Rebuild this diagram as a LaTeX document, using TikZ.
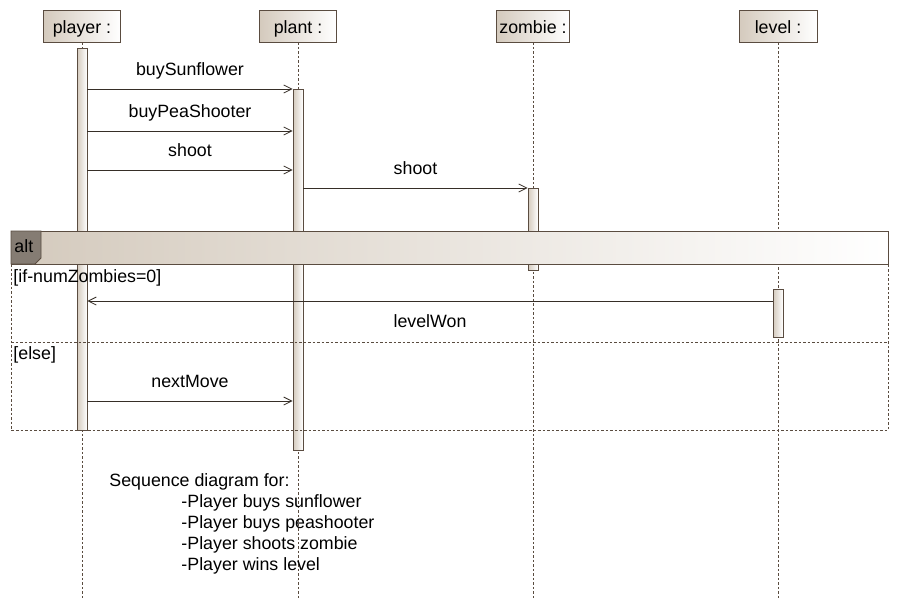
\documentclass[tikz,border=0pt]{standalone}
\usepackage{fontspec}
\setmainfont{Liberation Sans}
\usetikzlibrary{arrows.meta}
\definecolor{umlbrown}{HTML}{5A4C40}
\definecolor{umltan}{HTML}{D4CABD}
\definecolor{umltab}{HTML}{857C73}
\colorlet{msgline}{umlbrown!60!black}

\begin{document}
\begin{tikzpicture}[
        x=1pt, y=-1pt,
        line width=0.9pt,
        font=\fontsize{17.8}{21}\selectfont,
        head/.style={draw=umlbrown, left color=umltan, right color=white, minimum height=32pt, inner sep=0pt, text height=15pt, text depth=1pt},
        life/.style={umlbrown, dash pattern=on 2.5pt off 2pt},
        bar/.style={draw=umlbrown, left color=umltan, right color=white, minimum width=10pt, inner sep=0pt, anchor=north},
        msg/.style={-{Straight Barb[length=8pt,width=8pt,line width=0.8pt]}, msgline},
        lbl/.style={midway, anchor=base, yshift=14pt, text=black}
    ]
        \useasboundingbox (0,0) rectangle (899,611);

        % lifelines
        \foreach \n/\x/\w in {player/82/77, plant/298/77, zombie/533/73, level/778/78} {
            \node[head, minimum width=\w pt] (\n) at (\x,26) {\n\ :};
            \coordinate (\n end) at (\x,600);
            \draw[life] (\n) -- (\n end);
        }

        % activations
        \node[bar, minimum height=382pt] (playerAct) at (82,48) {};
        \node[bar, minimum height=361pt] (plantAct) at (298,89) {};
        \node[bar, minimum height=82pt] (zombieAct) at (533,188) {};
        \node[bar, minimum height=48pt] (levelAct) at (778,289) {};

        % messages
        \draw[msg] (playerAct.east |- plantAct.north) -- (plantAct.north west) node[lbl]{buySunflower};
        \draw[msg] (playerAct.east |- 0,131) -- (plantAct.west |- 0,131) node[lbl]{buyPeaShooter};
        \draw[msg] (playerAct.east |- 0,170) -- (plantAct.west |- 0,170) node[lbl]{shoot};
        \draw[msg] (plantAct.east |- zombieAct.north) -- (zombieAct.north west) node[lbl]{shoot};
        \draw[msg] (levelAct.west |- 0,301) -- (playerAct.east |- 0,301) node[lbl, yshift=-40pt]{levelWon};
        \draw[msg] (playerAct.east |- 0,401) -- (plantAct.west |- 0,401) node[lbl]{nextMove};

        % alt fragment
        \shade[left color=umltan, right color=white] (11,231) rectangle (888,264);
        \draw[umlbrown] (11,231) rectangle (888,264);
        \draw[umlbrown, fill=umltab] (11,231) -- (41,231) -- (41,258) -- (35,264) -- (11,264) -- cycle;
        \node[anchor=base west, inner sep=0pt] (altLabel) at (14,252) {alt};
        \draw[life] (11,264) rectangle (888,430);
        \draw[life] (11,342) -- (888,342);
        \node[anchor=base west, inner sep=0pt] (ifGuard) at (13,282) {[if-numZombies=0]};
        \node[anchor=base west, inner sep=0pt] (elseGuard) at (13,359) {[else]};

        % note
        \node[anchor=north west, align=left, inner sep=0pt] (note) at (109,473.5) {Sequence diagram for:\\
            \hspace*{72pt}-Player buys sunflower\\
            \hspace*{72pt}-Player buys peashooter\\
            \hspace*{72pt}-Player shoots zombie\\
            \hspace*{72pt}-Player wins level};
    \end{tikzpicture}
\end{document}
